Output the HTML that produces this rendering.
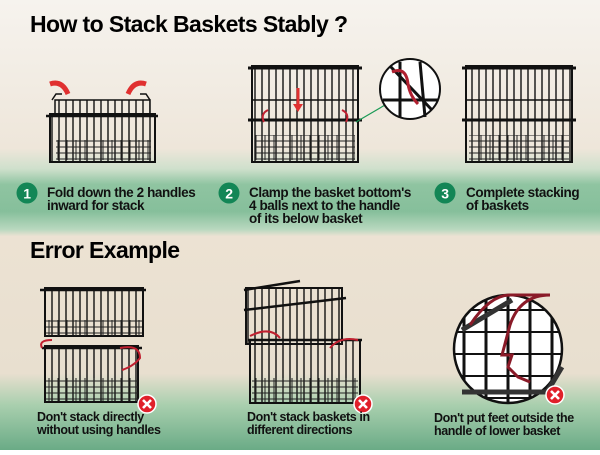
<!DOCTYPE html>
<html><head><meta charset="utf-8"><style>
body{margin:0;width:600px;height:450px;overflow:hidden;font-family:"Liberation Sans",Arial,sans-serif;}
</style></head><body>
<svg width="600" height="450" viewBox="0 0 600 450" xmlns="http://www.w3.org/2000/svg">
<defs>
<linearGradient id="bg" x1="0" y1="0" x2="0" y2="1">
<stop offset="0" stop-color="#f6f3ee"/>
<stop offset="0.33" stop-color="#eee6da"/>
<stop offset="0.375" stop-color="#cfe0cc"/>
<stop offset="0.41" stop-color="#8fc4a1"/>
<stop offset="0.47" stop-color="#86bf9b"/>
<stop offset="0.51" stop-color="#b9d8bf"/>
<stop offset="0.525" stop-color="#ece2d3"/>
<stop offset="0.83" stop-color="#e8dfcf"/>
<stop offset="0.9" stop-color="#a9cfae"/>
<stop offset="1" stop-color="#6aab86"/>
</linearGradient>
<pattern id="w" width="7" height="10" patternUnits="userSpaceOnUse">
<rect width="7" height="10" fill="none"/>
<line x1="3" y1="0" x2="3" y2="10" stroke="#111" stroke-width="1.4"/>
</pattern>
<pattern id="g" width="9" height="6" patternUnits="userSpaceOnUse">
<line x1="0" y1="3" x2="9" y2="3" stroke="#222" stroke-width="1"/>
<line x1="4" y1="0" x2="4" y2="6" stroke="#222" stroke-width="1"/>
</pattern>
<pattern id="cg" width="22" height="22" patternUnits="userSpaceOnUse">
<rect width="22" height="22" fill="#fff"/>
<line x1="2" y1="0" x2="2" y2="22" stroke="#111" stroke-width="3"/>
<line x1="0" y1="2" x2="22" y2="2" stroke="#111" stroke-width="2"/>
</pattern>
<g id="x"><circle r="9" fill="#e0202a" stroke="#fff" stroke-width="1.5"/><path d="M-4-4L4 4M4-4L-4 4" stroke="#fff" stroke-width="2.6"/></g>
</defs>
<rect width="600" height="450" fill="url(#bg)"/>

<text x="30" y="32" font-size="23" font-weight="bold" fill="#000" letter-spacing="-0.6">How to Stack Baskets Stably ?</text>

<!-- basket 1 -->
<g stroke="#111" fill="none">
<rect x="50" y="114" width="105" height="48" fill="url(#w)" stroke-width="2"/>
<rect x="55" y="100" width="95" height="14" fill="url(#w)" stroke-width="1.5"/>
<rect x="56" y="140" width="95" height="20" fill="url(#g)" stroke-width="0"/>
<line x1="46" y1="116" x2="158" y2="116" stroke-width="2.5"/>
<path d="M52 100 l4 -6 h6 M150 100 l-4 -6 h-6" stroke-width="1.5"/>
</g>
<path d="M50 84 q12 -4 18 10" stroke="#e03030" stroke-width="5" fill="none"/>
<path d="M146 84 q-12 -4 -18 10" stroke="#e03030" stroke-width="5" fill="none"/>

<!-- basket 2 -->
<g stroke="#111" fill="none">
<rect x="252" y="66" width="106" height="96" fill="url(#w)" stroke-width="2"/>
<rect x="255" y="135" width="100" height="25" fill="url(#g)" stroke-width="0"/>
<line x1="248" y1="68" x2="362" y2="68" stroke-width="3"/>
<line x1="248" y1="120" x2="362" y2="120" stroke-width="3"/>
<line x1="252" y1="100" x2="358" y2="100" stroke-width="1.5"/>
</g>
<path d="M298 88 v18" stroke="#e03030" stroke-width="3"/><path d="M293 104 l5 8 5-8z" fill="#e03030"/>
<path d="M268 110 q-8 4 -4 12M342 110 q8 4 4 12" stroke="#c02030" stroke-width="2" fill="none"/>
<line x1="356" y1="122" x2="385" y2="105" stroke="#1a9a55" stroke-width="1.2"/>
<circle cx="410" cy="89" r="30" fill="#fff" stroke="#111" stroke-width="2"/>
<g stroke="#111" stroke-width="3"><line x1="390" y1="66" x2="432" y2="110"/><line x1="383" y1="100" x2="438" y2="100"/><line x1="400" y1="62" x2="400" y2="118"/><line x1="420" y1="62" x2="425" y2="117"/></g>
<path d="M392 72 q14 -6 16 12 q2 12 10 20" stroke="#b02030" stroke-width="3" fill="none"/>

<!-- basket 3 -->
<g stroke="#111" fill="none">
<rect x="466" y="66" width="106" height="96" fill="url(#w)" stroke-width="2"/>
<rect x="469" y="135" width="100" height="25" fill="url(#g)" stroke-width="0"/>
<line x1="462" y1="68" x2="576" y2="68" stroke-width="3"/>
<line x1="462" y1="120" x2="576" y2="120" stroke-width="3"/>
<line x1="466" y1="100" x2="572" y2="100" stroke-width="1.5"/>
</g>

<!-- steps -->
<g font-size="13.5" fill="#111" letter-spacing="-0.4" font-weight="bold">
<circle cx="27" cy="193" r="10.5" fill="#138656"/><text x="27" y="198.5" text-anchor="middle" fill="#fff" font-size="14">1</text>
<text x="47" y="197">Fold down the 2 handles</text><text x="47" y="210">inward for stack</text>
<circle cx="229" cy="193" r="10.5" fill="#138656"/><text x="229" y="198.5" text-anchor="middle" fill="#fff" font-size="14">2</text>
<text x="249" y="197">Clamp the basket bottom's</text><text x="249" y="210">4 balls next to the handle</text><text x="249" y="223">of its below basket</text>
<circle cx="445" cy="193" r="10.5" fill="#138656"/><text x="445" y="198.5" text-anchor="middle" fill="#fff" font-size="14">3</text>
<text x="466" y="197">Complete stacking</text><text x="466" y="210">of baskets</text>
</g>

<text x="30" y="258" font-size="23" font-weight="bold" fill="#000" letter-spacing="-0.6">Error Example</text>

<!-- error 1 -->
<g stroke="#111" fill="none">
<rect x="45" y="288" width="98" height="48" fill="url(#w)" stroke-width="2"/>
<rect x="46" y="320" width="96" height="16" fill="url(#g)" stroke-width="0"/>
<line x1="40" y1="290" x2="146" y2="290" stroke-width="2.5"/>
<rect x="45" y="346" width="93" height="56" fill="url(#w)" stroke-width="2"/>
<rect x="46" y="378" width="92" height="23" fill="url(#g)" stroke-width="0"/>
<line x1="42" y1="348" x2="142" y2="348" stroke-width="2.5"/>
</g>
<path d="M42 348 q-4 -8 10 -8 M120 348 q20 -4 20 10 q-6 8 -18 12" stroke="#c02030" stroke-width="2" fill="none"/>
<use href="#x" x="147" y="404"/>

<!-- error 2 -->
<g stroke="#111" fill="none">
<rect x="246" y="288" width="96" height="56" fill="url(#w)" stroke-width="2"/>
<line x1="244" y1="290" x2="300" y2="281" stroke-width="2.5"/>
<line x1="244" y1="310" x2="346" y2="298" stroke-width="2.5"/>
<rect x="250" y="340" width="110" height="63" fill="url(#w)" stroke-width="2"/>
<rect x="252" y="378" width="106" height="24" fill="url(#g)" stroke-width="0"/>
<line x1="248" y1="340" x2="362" y2="340" stroke-width="2.5"/>
</g>
<path d="M250 336 q20 -10 30 2 M330 348 q10 -12 28 -8" stroke="#c02030" stroke-width="2" fill="none"/>
<use href="#x" x="363" y="404"/>

<!-- error 3 -->
<circle cx="508" cy="349" r="54" fill="url(#cg)" stroke="#111" stroke-width="2.5"/>
<path d="M462 330 l50 -30 M462 392 h85 l15 -25" stroke="#333" stroke-width="5" fill="none"/>
<path d="M470 325 q20 -30 40 -30 h40 q-30 0 -40 30 l-8 30 l10 0 l-4 12 l10 10 l12 5" stroke="#8a1a28" stroke-width="3" fill="none"/>
<use href="#x" x="555" y="395"/>

<g font-size="12.5" fill="#111" letter-spacing="-0.4" font-weight="bold">
<text x="37" y="421">Don't stack directly</text><text x="37" y="434">without using handles</text>
<text x="247" y="421">Don't stack baskets in</text><text x="247" y="434">different directions</text>
<text x="434" y="422">Don't put feet outside the</text><text x="434" y="435">handle of lower basket</text>
</g>
</svg>
</body></html>
